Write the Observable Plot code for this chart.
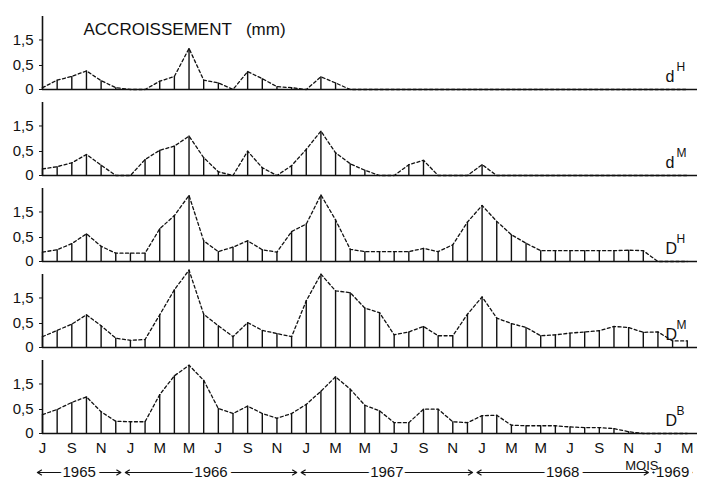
<!DOCTYPE html>
<html><head><meta charset="utf-8">
<script src="https://cdn.jsdelivr.net/npm/d3@7"></script>
<script src="https://cdn.jsdelivr.net/npm/@observablehq/plot@0.6"></script>
<style>body{margin:0;background:#fff}</style>
</head><body><div id="chart"></div>
<script>
// Series (mm), one value per month, Jul 1965 (index 0) .. Mar 1969 (index 44)
const seriesKeys = ["dH", "dM", "DH", "DM", "DB"];
const seriesBase = ["d", "d", "D", "D", "D"];
const seriesSup  = ["H", "M", "H", "M", "B"];

const dH = [0.01,0.12,0.20,0.34,0.11,0.01,0,0,0.10,0.20,
            1.13,0.12,0.07,0,0.32,0.15,0.02,0.01,0,0.19,
            0.07,0,0,0,0,0,0,0,0,0,
            0,0,0,0,0,0,0,0,0,0,
            0,0,0,0,0];
const dM = [0.07,0.11,0.19,0.41,0.14,0,0,0.27,0.54,0.68,
            1.06,0.32,0.03,0,0.51,0.09,0,0.13,0.57,1.27,
            0.46,0.17,0.05,0,0,0.15,0.25,0,0,0,
            0.15,0,0,0,0,0,0,0,0,0,
            0,0,0,0,0];
const DH = [0.12,0.17,0.32,0.62,0.25,0.10,0.10,0.10,0.80,1.34,
            2.32,0.40,0.13,0.23,0.40,0.17,0.12,0.70,0.98,2.35,
            1.15,0.18,0.13,0.13,0.13,0.13,0.20,0.13,0.29,1.06,
            1.81,1.09,0.59,0.33,0.15,0.15,0.15,0.15,0.15,0.15,
            0.16,0.15,0,0,0];
const DM = [0.15,0.30,0.48,0.80,0.43,0.12,0.08,0.095,0.80,1.89,
            2.95,0.82,0.43,0.15,0.53,0.30,0.22,0.15,1.37,2.72,
            1.84,1.75,1.06,0.88,0.19,0.26,0.41,0.17,0.17,0.82,
            1.55,0.68,0.50,0.38,0.17,0.19,0.23,0.26,0.29,0.41,
            0.38,0.25,0.26,0.07,0.07];
const DB = [0.35,0.50,0.74,0.95,0.43,0.18,0.17,0.17,1.04,1.89,
            2.44,1.67,0.53,0.38,0.61,0.38,0.25,0.38,0.67,1.18,
            1.84,1.27,0.64,0.46,0.15,0.15,0.51,0.51,0.17,0.15,
            0.32,0.33,0.10,0.09,0.09,0.09,0.07,0.06,0.06,0.045,
            0.01,0,0,0,0];
const seriesValues = [dH, dM, DH, DM, DB];

// Tick labels (every two months, starting July 1965)
const monthLetters = ["J","S","N","J","M","M","J","S","N","J","M","M","J","S","N","J","M","M","J","S","N","J","M"];
const monthTicks = monthLetters.map((_, k) => 2 * k);
const yTicks = [0, 0.5, 1.5];

// Years (month-index spans)
const years = ["1965", "1966", "1967", "1968", "1969"];
const yearStart = [0, 6, 18, 30, 42];
const yearEnd = [5, 17, 29, 41, 44];

const title = "ACCROISSEMENT\u00a0\u00a0\u00a0(mm)";
const xTitle = "MOIS";

// Build tables
const rows = [];
seriesKeys.forEach((key, s) => seriesValues[s].forEach((v, i) => rows.push({key, i, v})));
const labelRows = seriesKeys.map((key, s) => ({key, base: seriesBase[s], sup: seriesSup[s]}));
const yearRows = years.map((year, k) => ({year, key: "DB", s: yearStart[k], e: yearEnd[k]}));
const ext = 0.35;

const font = "Liberation Sans, Arial, sans-serif";
const ink = "#111";

const chart = Plot.plot({
  width: 712,
  height: 479,
  marginLeft: 42,
  marginRight: 15,
  marginTop: 16,
  marginBottom: 46,
  style: {fontFamily: font, fontSize: "15px", color: ink, background: "white"},
  fy: {domain: seriesKeys, axis: null, paddingInner: 13 / 86, paddingOuter: 0},
  x: {domain: [0, 44.7], ticks: monthTicks, tickFormat: d => monthLetters[d / 2], tickSize: 0, tickPadding: 9, label: null},
  y: {type: "pow", exponent: 0.66, domain: [0, 2.7], ticks: yTicks,
      tickFormat: d => String(d).replace(".", ","), tickSize: 3, tickPadding: 6, label: null},
  marks: [
    Plot.line(rows, {x: "i", y: "v", fy: "key", stroke: ink, strokeWidth: 1.3, strokeDasharray: "3,2.5"}),
    Plot.ruleX(rows, {x: "i", y1: 0, y2: "v", fy: "key", stroke: ink, strokeWidth: 1.4}),
    Plot.ruleY([0], {stroke: ink, strokeWidth: 1.6}),
    Plot.ruleX([0], {stroke: ink, strokeWidth: 1.6}),
    // series labels
    Plot.text(labelRows, {fy: "key", text: "base", frameAnchor: "bottom-right", textAnchor: "start",
      lineAnchor: "middle", dx: -32, dy: -13, fontSize: 16, fill: ink}),
    Plot.text(labelRows, {fy: "key", text: "sup", frameAnchor: "bottom-right", textAnchor: "start",
      lineAnchor: "middle", dx: -21, dy: -22, fontSize: 12, fill: ink}),
    // title
    Plot.text([{key: "dH", t: title}], {fy: "key", text: "t", frameAnchor: "top-left", textAnchor: "start",
      lineAnchor: "middle", dx: 41, dy: 13, fontSize: 17, fill: ink}),
    // year arrows
    Plot.arrow(yearRows, {fy: "key", x1: d => (d.s + d.e) / 2, x2: d => d.e + ext, y1: 0, y2: 0, dy: 39,
      stroke: ink, strokeWidth: 1.2, headLength: 6}),
    Plot.arrow(yearRows, {fy: "key", x1: d => (d.s + d.e) / 2, x2: d => d.s - ext, y1: 0, y2: 0, dy: 39,
      stroke: ink, strokeWidth: 1.2, headLength: 6}),
    Plot.text(yearRows, {fy: "key", x: d => (d.s + d.e) / 2, y: 0, dy: 39, text: "year",
      stroke: "white", strokeWidth: 8, fill: ink, fontSize: 15, lineAnchor: "middle"}),
    // MOIS (drawn last, above the year row)
    Plot.text([{key: "DB", t: xTitle}], {fy: "key", text: "t", frameAnchor: "bottom-right", textAnchor: "end",
      lineAnchor: "middle", dx: -39, dy: 32, fontSize: 13, fill: ink})
  ]
});
document.getElementById("chart").appendChild(chart);
</script>
</body></html>
